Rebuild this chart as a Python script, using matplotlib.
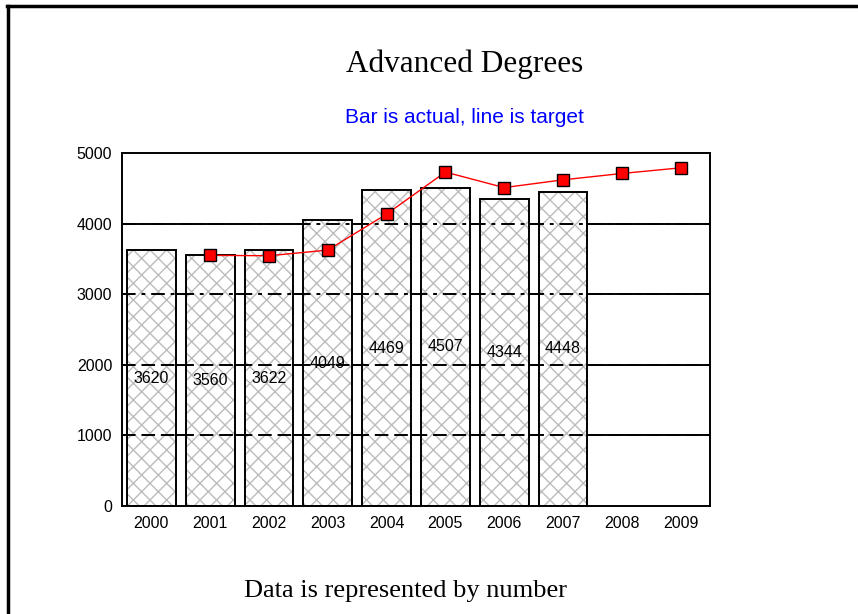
import matplotlib
matplotlib.use("Agg")
import matplotlib.pyplot as plt
import numpy as np

years = ["2000", "2001", "2002", "2003", "2004", "2005", "2006", "2007", "2008", "2009"]
actual = [3620, 3560, 3622, 4049, 4469, 4507, 4344, 4448]
target = [None, 3550, 3545, 3625, 4135, 4730, 4510, 4620, 4710, 4790]
y_ticks = [0, 1000, 2000, 3000, 4000, 5000]

plt.rcParams["hatch.linewidth"] = 1.0

fig = plt.figure(figsize=(8.58, 6.14), dpi=100)
ax = fig.add_axes([0.1422, 0.1759, 0.6853, 0.5749])

x = np.arange(len(years))
xa = x[:len(actual)]

# solid grid underneath, bars on top, broken grid drawn again over the bars
for v in y_ticks[1:-1]:
    ax.axhline(v, color="black", lw=1.4, zorder=0)
# gray crosshatch first, then a black outline on top of it
ax.bar(xa, actual, width=0.83, facecolor="white", edgecolor="#bcbcbc",
       linewidth=0, hatch="xx", zorder=1)
ax.bar(xa, actual, width=0.83, fill=False, edgecolor="black",
       linewidth=1.4, zorder=2)
for v in y_ticks[1:-1]:
    ls = (0, (7, 3, 2, 3)) if v >= 3000 else (0, (7, 3))
    ax.axhline(v, color="black", lw=1.4, ls=ls, zorder=2)

for xi, v in zip(xa, actual):
    ax.text(xi, v / 2, str(v), ha="center", va="center", fontsize=11.5,
            family="Liberation Sans", zorder=3)

tx = [xi for xi, t in zip(x, target) if t is not None]
ty = [t for t in target if t is not None]
ax.plot(tx, ty, color="red", lw=1.0, marker="s", markersize=9.2,
        markerfacecolor="red", markeredgecolor="black", markeredgewidth=1.0,
        zorder=4)

ax.set_xlim(-0.5, len(years) - 0.5)
ax.set_ylim(0, 5000)
ax.set_xticks(x)
ax.set_xticklabels(years)
ax.set_yticks(y_ticks)
ax.tick_params(length=0, labelsize=11.5, pad=7)
for lab in ax.get_xticklabels() + ax.get_yticklabels():
    lab.set_family("Liberation Sans")
for sp in ax.spines.values():
    sp.set_linewidth(1.4)

fig.text(0.541, 0.896, "Advanced Degrees", ha="center", va="center",
         fontsize=22.5, family="Liberation Serif")
fig.text(0.541, 0.809, "Bar is actual, line is target", ha="center", va="center",
         fontsize=15, color="#0000ff", family="Liberation Sans")
fig.text(0.473, 0.037, "Data is represented by number", ha="center", va="center",
         fontsize=19, family="Liberation Serif")

# page border on the left and top
fig.add_artist(plt.Line2D([0.0093, 0.0093], [0, 0.9905], color="black", lw=2.5,
                          transform=fig.transFigure))
fig.add_artist(plt.Line2D([0.008, 1.0], [0.9905, 0.9905], color="black", lw=2.5,
                          transform=fig.transFigure))

fig.savefig("out.png", dpi=100)
